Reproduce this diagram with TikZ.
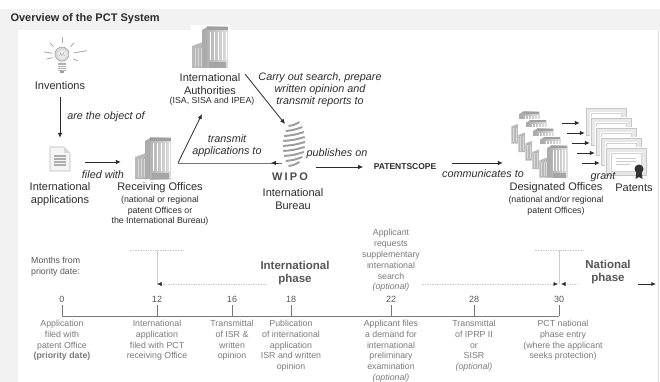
\documentclass[tikz,border=0pt]{standalone}
\usepackage{fontspec}
\setmainfont{Liberation Sans}
\usetikzlibrary{arrows,arrows.meta,shapes,positioning,calc}

\definecolor{ink}{HTML}{2B2B2B}
\definecolor{soft}{HTML}{7A7A7A}
\definecolor{band}{HTML}{F2F2F2}
\definecolor{phasegrey}{HTML}{555555}

\tikzset{
  lbl/.style={font=\fontsize{11}{12.5}\selectfont, text=ink, align=center, inner sep=1pt},
  sub/.style={font=\fontsize{8.8}{10.6}\selectfont, text=ink, align=center, inner sep=1pt},
  act/.style={font=\fontsize{10.8}{11.8}\selectfont\itshape, text=ink, align=center, inner sep=1pt},
  arr/.style={-{Latex[length=5pt,width=4.5pt]}, line width=0.8pt, draw=ink},
  spot/.style 2 args={minimum width=#1, minimum height=#2, inner sep=0pt},
  tl/.style={font=\fontsize{8.8}{10.8}\selectfont, text=soft, align=center, inner sep=0pt},
  num/.style={font=\fontsize{9}{10}\selectfont, text=phasegrey, inner sep=2pt},
  phase/.style={font=\bfseries\fontsize{11.5}{13.5}\selectfont, text=phasegrey, align=center, inner sep=1pt},
  guide/.style={gray!40, dash pattern=on 1.5pt off 1pt, line width=0.5pt},
  pointer/.style={-{Latex[length=4.5pt,width=4pt,color=ink]}},
  % icons, drawn with y pointing down
  office/.pic={
    \fill[white] (-21,-23) rectangle (18,21);
    \fill[gray!55] (-20,-2) -- (-9,-6) -- (-9,20) -- (-20,20) -- cycle;
    \foreach \c in {-17,-14,-11} \draw[gray!30, line width=0.8pt] (\c,0) -- (\c,18);
    \fill[gray!65] (-10,-18) -- (-5,-21) -- (-5,20) -- (-10,20) -- cycle;
    \shade[left color=gray!60, right color=gray!25] (-5,-21) rectangle (16,20);
    \foreach \c in {-2,2,...,14} \draw[white, line width=1pt] (\c,-16) -- (\c,12);
    \fill[gray!75] (-5,-21) rectangle (16,-18);
    \fill[gray!70] (-3,14) rectangle (14,20);
  },
  bulb/.pic={
    \foreach \a/\ri/\ro in {-90/12/18,-45/12/17,-135/12/17,-170/10/18,165/10/16,-10/12/25,20/12/17}
      \draw[gray!65, line width=0.9pt] (\a:\ri) -- (\a:\ro);
    \fill[gray!12] (-4,4) -- (4,4) -- (3.5,8) -- (-3.5,8) -- cycle;
    \shade[inner color=white, outer color=gray!35] (0,-1) circle (7);
    \draw[gray!70, line width=0.6pt] (0,-1) circle (7);
    \draw[gray!60, line width=0.5pt] (-2.5,1) -- (-1.5,-2) -- (0,1) -- (1.5,-2) -- (2.5,1);
    \fill[gray!60] (-4,8) rectangle (4,16);
    \foreach \y in {10,12,14} \draw[white, line width=0.6pt] (-4,\y) -- (4,\y);
    \fill[gray!75] (-2,16) rectangle (2,18);
  },
  doc/.pic={
    \fill[gray!8] (-10,-12) -- (4,-12) -- (10,-6) -- (10,12) -- (-10,12) -- cycle;
    \draw[gray!55, line width=0.6pt] (-10,-12) -- (4,-12) -- (10,-6) -- (10,12) -- (-10,12) -- cycle;
    \fill[gray!30] (4,-12) -- (4,-6) -- (10,-6) -- cycle;
    \foreach \y in {-3,0,3,6} \draw[gray!65, line width=1.2pt] (-6,\y) -- (6,\y);
  },
  wipo/.pic={
    \foreach \i in {0,...,8} {
      \pgfmathsetmacro{\y}{-20+5*\i}
      \pgfmathsetmacro{\w}{11*sqrt(1-(\y/23)^2)}
      \draw[gray!75, line width=2pt] (-\w,\y+1) .. controls (0,\y) .. (\w,\y-3);
    }
  },
  deed/.pic={
    \fill[white] (-21,-14.5) rectangle (21,14.5);
    \fill[gray!18] (-20,-13.5) rectangle (20,13.5);
    \draw[gray!45, line width=0.6pt] (-20,-13.5) rectangle (20,13.5);
    \fill[white] (-16,-10) rectangle (16,10);
    \draw[gray!35, line width=0.8pt] (-15,-9) rectangle (15,9);
    \draw[gray!40] (-10,-4) -- (10,-4) (-10,-1) -- (10,-1) (-10,2) -- (4,2);
  }
}

\begin{document}
\begin{tikzpicture}[x=1pt, y=-1pt]
  \useasboundingbox (0,0) rectangle (660,382);
  % frame
  \fill[band] (0,9) rectangle (660,30);
  \fill[band] (0,30) rectangle (18,382);
  \draw[gray!25] (658,30) -- (658,382);
  \node[anchor=west, font=\bfseries\fontsize{11}{13}\selectfont, text=ink] (title) at (7,19) {Overview of the PCT System};

  % inventions -> applications -> receiving offices
  \node[spot={34}{40}] (bulb) at (62,55) {};
  \pic at (bulb) {bulb};
  \node[lbl] (inv) at (60,86) {Inventions};
  \node[spot={22}{24}] (app) at (60,159) {};
  \pic at (app) {doc};
  \node[lbl] (applbl) at (60,194) {International\\applications};
  \draw[arr, shorten <=6pt, shorten >=9pt] (inv) -- (app);
  \node[act] (object) at (106,117) {are the object of};

  \node[spot={40}{42}] (ro) at (155,159) {};
  \pic at (ro) {office};
  \node[lbl] (rolbl) at (160,188) {Receiving Offices};
  \node[sub] (rosub) at (160,211) {(national or regional\\patent Offices or\\the International Bureau)};
  \draw[arr, shorten <=14pt, shorten >=14pt] ([yshift=-3pt]app.east) -- ([yshift=-3pt]ro.west);
  \node[act] (filed) at (103,175) {filed with};

  % authorities and bureau
  \node[spot={40}{42}] (ia) at (212,48) {};
  \pic at (ia) {office};
  \node[lbl] (ialbl) at (210,84) {International\\Authorities};
  \node[sub] (iasub) at (212,101) {(ISA, SISA and IPEA)};

  \node[spot={24}{48}] (wipo) at (294,145) {};
  \pic at (wipo) {wipo};
  \node[font=\bfseries\fontsize{11}{12}\selectfont\addfontfeature{LetterSpace=20}, text=ink!85] (wipotxt) at (290,177) {WIPO};
  \node[lbl] (ib) at (293,199) {International\\Bureau};

  \coordinate (fork) at (178,163);
  \coordinate (ia-in) at (202,114);
  \coordinate (ia-out) at (245,74);
  \coordinate (wipo-top) at (285,124);
  \draw[arr] (fork) -- (ia-in);
  \draw[arr] (fork) -- (fork -| wipo.west) -- ++(-11,0);
  \draw[arr] (ia-out) -- (wipo-top);
  \node[act] (transmit) at (227,146) {transmit\\applications to};
  \node[act] (carry) at (320,90) {Carry out search, prepare\\written opinion and\\transmit reports to};

  % publication and designated offices
  \node[font=\bfseries\fontsize{8.5}{10}\selectfont, text=ink] (ps) at (405,167) {PATENTSCOPE};
  \draw[arr] ([xshift=-54pt]ps.west) -- ([xshift=-7pt]ps.west);
  \node[act] (pub) at (337,154) {publishes on};
  \draw[arr] ([xshift=12pt,yshift=4pt]ps.east) -- ++(51,0);
  \node[act] (comm) at (483,174) {communicates to};

  \foreach \i in {0,...,4} {
    \node[spot={30}{34}] (do-\i) at ({527+7*\i},{128+8.5*\i}) {};
    \pic[scale=0.78] at (do-\i) {office};
  }
  \node[lbl] (dolbl) at (556,188) {Designated Offices};
  \node[sub] (dosub) at (556,206) {(national and/or regional\\patent Offices)};

  \foreach \i in {0,...,4} {
    \node[spot={40}{27}] (pat-\i) at ({606+5*\i},{122+10*\i}) {};
    \pic at (pat-\i) {deed};
  }
  \fill[black!80] ($(pat-4)+(13,7)$) circle (4.5);
  \fill[black!80] ($(pat-4)+(10.5,9)$) -- ++(-1,8) -- ++(3.5,-2) -- ++(3.5,2) -- ++(-1,-8) -- cycle;
  \node[lbl] (patlbl) at (634,188) {Patents};
  \foreach \i in {0,...,4}
    \draw[arr] ($(pat-\i.west)+(-24,1)$) -- ($(pat-\i.west)+(-6,1)$);
  \node[act] (grant) at (603,177) {grant};

  % time line
  \node[tl, anchor=west, align=left, text=phasegrey] (months) at (31,267) {Months from\\priority date:};
  \foreach \m/\x in {0/62,12/157,16/232,18/291,22/391,28/474,30/559} {
    \coordinate (t\m) at (\x,316);
    \draw[soft, line width=0.9pt] (t\m) -- ++(0,-11) node[num, above] (n\m) {\m};
  }
  \draw[soft, line width=0.9pt] (t0) -- (t30);

  \node[tl, below=4pt] (l0) at (t0) {Application\\filed with\\patent Office\\\textbf{(priority date)}};
  \node[tl, below=4pt] (l12) at (t12) {International\\application\\filed with PCT\\receiving Office};
  \node[tl, below=4pt] (l16) at (t16) {Transmittal\\of ISR \&\\written\\opinion};
  \node[tl, below=4pt] (l18) at (t18) {Publication\\of international\\application\\ISR and written\\opinion};
  \node[tl, below=4pt] (l22) at (t22) {Applicant files\\a demand for\\international\\preliminary\\examination\\\textit{(optional)}};
  \node[tl, below=4pt] (l28) at (t28) {Transmittal\\of IPRP II\\or\\SISR\\\textit{(optional)}};
  \node[tl, below=4pt] (l30) at ([xshift=4pt]t30) {PCT national\\phase entry\\(where the applicant\\seeks protection)};
  \node[tl, anchor=south] (sup) at (391,292) {Applicant\\requests\\supplementary\\international\\search\\\textit{(optional)}};

  % phases
  \node[phase] (intl) at (295,273) {International\\phase};
  \node[phase] (natl) at (608,272) {National\\phase};
  \coordinate (lane) at (0,284);
  \coordinate (top12) at (157,250);
  \coordinate (top30) at (559,250);
  \draw[guide] ([xshift=-27pt]top12) -- ([xshift=26pt]top12);
  \draw[guide] ([xshift=-24pt]top30) -- ([xshift=26pt]top30);
  \draw[guide, dash pattern=] (top12) -- (top12 |- lane);
  \draw[guide, dash pattern=] (top30) -- (top30 |- lane);
  \draw[guide, pointer] ([xshift=8pt]intl.west |- lane) -- (top12 |- lane);
  \draw[guide, pointer] ([xshift=2pt]sup.east |- lane) -- ([xshift=-1pt]top30 |- lane);
  \draw[guide, pointer] ([xshift=19pt]top30 |- lane) -- ([xshift=2pt]top30 |- lane);
  \draw[ink, line width=0.6pt, pointer] ([xshift=6pt]natl.east |- lane) -- ++(18,0);
\end{tikzpicture}
\end{document}
